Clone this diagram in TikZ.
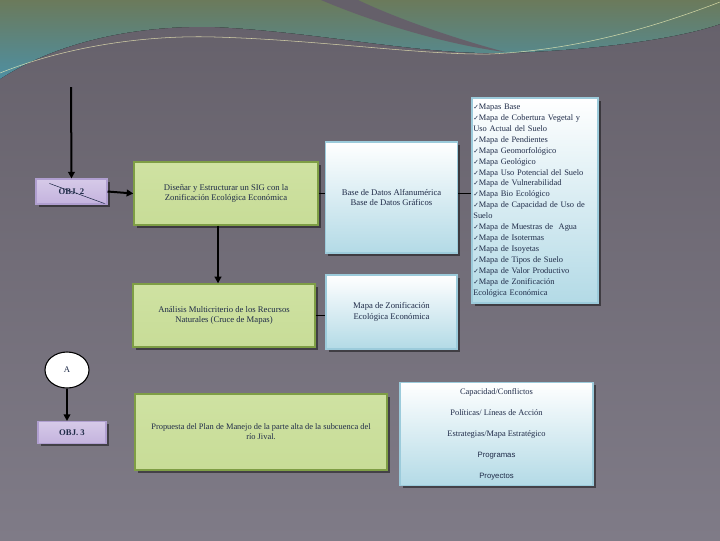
\documentclass[tikz,border=0pt]{standalone}
\usepackage{fontspec}
\setmainfont{Liberation Serif}
\newfontfamily\sinserif{Liberation Sans}
\newfontfamily\simbolos{DejaVu Sans}
\usetikzlibrary{calc,shapes.geometric,shadows,arrows.meta}

\definecolor{fondoarriba}{HTML}{65606A}
\definecolor{fondoabajo}{HTML}{7F7B87}
\definecolor{olivo}{HTML}{6B7A5B}
\definecolor{turquesa}{HTML}{4E8FA2}
\definecolor{tinta}{HTML}{1F2B48}
\definecolor{verde}{HTML}{9CBB5A}
\definecolor{verdeclaro}{HTML}{CFE2A2}
\definecolor{bordeverde}{HTML}{7E9E45}
\definecolor{celeste}{HTML}{B3DAE6}
\definecolor{bordeceleste}{HTML}{9CCBDB}
\definecolor{lila}{HTML}{C4B3DE}
\definecolor{bordelila}{HTML}{B09FD0}

\newcommand{\chk}{{\simbolos\fontsize{5}{5}\selectfont ✓}}

\begin{document}
\begin{tikzpicture}[x=0.75pt, y=-0.75pt,
  caja/.style={draw, text=tinta, align=center, inner sep=2pt,
    font=\fontsize{6.5}{7.8}\selectfont,
    drop shadow={shadow xshift=2pt, shadow yshift=-2pt, fill=black, opacity=0.45}},
  verdebox/.style={caja, draw=bordeverde, line width=1pt,
    top color=verdeclaro, middle color=verde, bottom color=verdeclaro!85!verde},
  celestebox/.style={caja, draw=bordeceleste, line width=1.2pt,
    top color=white, bottom color=celeste},
  objbox/.style={caja, draw=bordelila, line width=0.8pt,
    top color=lila!70, middle color=white, bottom color=lila,
    font=\bfseries\fontsize{6.5}{7.8}\selectfont},
  flecha/.style={line width=1.5pt, -{Triangle[length=5pt,width=5pt]}},
  linea/.style={line width=0.8pt}]

  \useasboundingbox (0,0) rectangle (720,540);

  % fondo y onda de arriba
  \fill[top color=fondoarriba, bottom color=fondoabajo] (0,0) rectangle (720,540);
  \fill[top color=olivo, bottom color=turquesa]
    (0,0) -- (0,79) .. controls (60,40) and (140,25) .. (215,27)
    .. controls (320,32) and (420,55) .. (505,53)
    .. controls (600,50) and (680,38) .. (720,24) -- (720,0) -- cycle;
  \fill[fondoarriba]
    (321,0) .. controls (380,25) and (450,45) .. (505,52)
    .. controls (460,40) and (400,20) .. (358,0) -- cycle;
  \draw[white!75!yellow, line width=0.4pt, opacity=0.7]
    (0,73) .. controls (70,45) and (150,35) .. (215,37)
    .. controls (320,40) and (420,55) .. (490,54)
    .. controls (580,50) and (660,25) .. (720,2);

  % objetivo 2
  \coordinate (ini) at (71,87);
  \node[objbox, minimum width=53.25pt, minimum height=18.75pt] (obj2) at (71.5,191.5) {OBJ. 2};
  \node[verdebox, minimum width=138pt, minimum height=47.25pt] (dise) at (226,193.5)
    {Diseñar y Estructurar un SIG con la\\Zonificación Ecológica Económica};
  \node[celestebox, minimum width=99pt, minimum height=83.25pt] (bd) at (391.5,197.5)
    {Base de Datos Alfanumérica\\Base de Datos Gráficos};
  \node[celestebox, text width=92.5pt, minimum height=153.75pt, align=left,
        inner sep=1pt, font=\fontsize{6.3}{8.2}\selectfont] (lista) at (535,200.5)
    {\chk Mapas Base\\
     \chk Mapa de Cobertura Vegetal y\\
     Uso Actual del Suelo\\
     \chk Mapa de Pendientes\\
     \chk Mapa Geomorfológico\\
     \chk Mapa Geológico\\
     \chk Mapa Uso Potencial del Suelo\\
     \chk Mapa de Vulnerabilidad\\
     \chk Mapa Bio Ecológico\\
     \chk Mapa de Capacidad de Uso de\\
     Suelo\\
     \chk Mapa de Muestras de\ \ Agua\\
     \chk Mapa de Isotermas\\
     \chk Mapa de Isoyetas\\
     \chk Mapa de Tipos de Suelo\\
     \chk Mapa de Valor Productivo\\
     \chk Mapa de Zonificación\\
     Ecológica Económica};
  \node[verdebox, minimum width=136.5pt, minimum height=47.25pt] (anal) at (224,315.5)
    {Análisis Multicriterio de los Recursos\\Naturales (Cruce de Mapas)};
  \node[celestebox, minimum width=98.25pt, minimum height=55.5pt] (mapa) at (391.5,312)
    {Mapa de Zonificación\\Ecológica Económica};

  \draw[tinta, line width=0.4pt] ($(obj2.north west)+(14,5)$) -- ($(obj2.south east)+(-3,-1)$);

  \draw[flecha] (ini) -- (obj2.north);
  \draw[flecha] (obj2.east) -- (dise.west);
  \draw[linea] (dise.east) -- (bd.west |- dise.east);
  \draw[linea] (bd.east |- dise.east) -- (lista.west |- dise.east);
  \draw[flecha] ($(dise.south)+(-8,0)$) -- ($(anal.north)+(-6,0)$);
  \draw[linea] (anal.east) -- (mapa.west |- anal.east);

  % objetivo 3
  \node[ellipse, draw=black, line width=0.8pt, fill=white, text=tinta,
        minimum width=33pt, minimum height=27pt, inner sep=0pt,
        font=\fontsize{6.5}{7.8}\selectfont] (A) at (67,370) {A};
  \node[objbox, minimum width=51pt, minimum height=16.5pt] (obj3) at (72,432.5) {OBJ. 3};
  \node[verdebox, minimum width=189pt, minimum height=57pt,
        font=\fontsize{6.3}{7.6}\selectfont] (prop) at (261,432)
    {Propuesta del Plan de Manejo de la parte alta de la subcuenca del\\río Jival.};
  \node[celestebox, minimum width=144.75pt, minimum height=77.25pt,
        font=\fontsize{6.3}{15.75}\selectfont] (metas) at (496.5,434)
    {Capacidad/Conflictos\\
     Políticas/ Líneas de Acción\\
     Estrategias/Mapa Estratégico\\
     {\sinserif\fontsize{5.8}{15.75}\selectfont Programas}\\
     {\sinserif\fontsize{5.8}{15.75}\selectfont Proyectos}};

  \draw[flecha] (A.south) -- (A.south |- obj3.north);
\end{tikzpicture}
\end{document}
